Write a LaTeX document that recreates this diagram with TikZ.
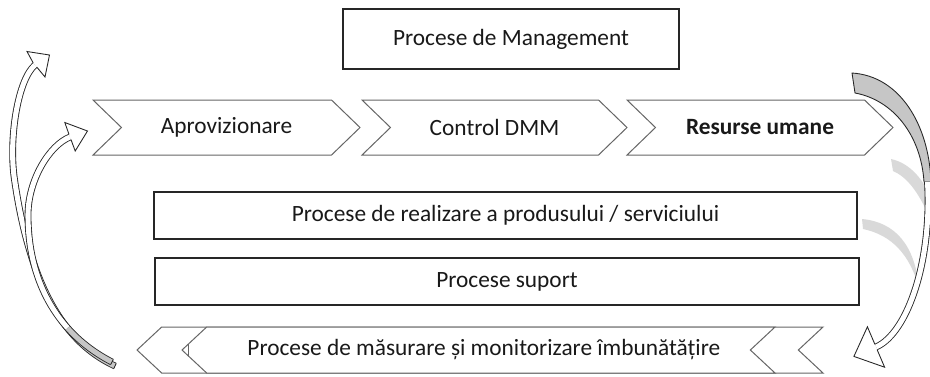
\documentclass[tikz,border=0pt]{standalone}
\usepackage{fontspec}
\setmainfont{Carlito}
\usepackage{tikz}
\usetikzlibrary{shapes.symbols}

\begin{document}
\begin{tikzpicture}[x=0.75pt, y=-0.75pt, outer sep=0pt, font=\fontsize{17.5}{20}\selectfont]

\tikzstyle{proc}=[draw=black!85, line width=1.1pt, rectangle, fill=white, text=black!90, minimum height=35.25pt]
\tikzstyle{chev}=[draw=black!60, line width=0.75pt, signal, fill=white, text=black!90, inner sep=0pt]
\tikzstyle{shaft}=[draw=black!85, line width=0.65pt, double distance=3.8pt]
\tikzstyle{head}=[draw=black!85, line width=0.65pt, fill=white]

\useasboundingbox (0,0) rectangle (930,376);

\node[proc, minimum width=252pt, minimum height=45pt] (mgmt) at (511,39) {Procese de Management};

% lantul de procese
\tikzstyle{chevtop}=[chev, signal to=east, signal from=west, signal pointer angle=88, minimum height=41.25pt]
\node[chevtop, minimum width=200.25pt] (aprov) at (226.5,127.5) {Aprovizionare}; \node[chevtop, minimum width=198.75pt] (dmm) at (494.5,127.5) {Control DMM};
\node[chevtop, minimum width=199.5pt] (resurse) at (760,127.5) {\textbf{Resurse umane}};

\node[proc, minimum width=527.25pt] (realizare) at (505.5,215.5) {Procese de realizare a produsului / serviciului};
\node[proc, minimum width=528pt] (suport) at (507,281.5) {Procese suport};

\tikzstyle{chevbot}=[chev, signal to=west, signal from=east, signal pointer angle=86, minimum height=34.5pt]
\node[chevbot, minimum width=514.5pt] (masurareb) at (480,350) {};
\node[chevbot, minimum width=444.75pt] (masurare) at (478.5,350) {\hspace*{8pt}Procese de măsurare și monitorizare îmbunătățire};
\draw[draw=black!60, line width=0.75pt] (188,344) -- (188,356);

% sageti stanga
\draw[shaft, double=gray!45] (115,366) .. controls (99.3,358.7) and (84.1,347.9) .. (70.5,331.8);
\draw[shaft, double=white] (70.5,331.8) .. controls (45.1,302) and (24.8,253.4) .. (14,176) .. controls (9,135) and (18.3,79.3) .. (35,65);
\draw[draw=black!85, line width=0.65pt] (116.2,363.5) -- (113.8,368.5);
\filldraw[head] (36.8,67.1) -- (45,77) -- (49.5,55) -- (27,51.5) -- (33.2,62.9);

\draw[shaft, double=gray!45] (112,362) .. controls (95.6,353.6) and (80.3,342.3) .. (67.5,327.9);
\draw[shaft, double=white] (67.5,327.9) .. controls (43.7,301.1) and (28,263.8) .. (28,215) .. controls (28,180) and (49.5,145.1) .. (70,137);
\draw[draw=black!85, line width=0.65pt] (113.3,359.5) -- (110.7,364.5);
\filldraw[head] (71,139.6) -- (75.2,151) -- (87.5,131) -- (64.8,122.5) -- (69,134.4);

% sageata dreapta
\fill[gray!30] (891,159) .. controls (910,163) and (924,180) .. (932,200) -- (928,214) .. controls (918,192) and (907,177) .. (893,171) -- cycle;
\fill[gray!30] (862,219) .. controls (895,222) and (915,245) .. (919,288) .. controls (910,255) and (892,235) .. (863,229) -- cycle;
\filldraw[head, fill=gray!45] (852,73) .. controls (900,76) and (929,125) .. (931,182) -- (924,182) .. controls (921,135) and (893,100) .. (855,93) -- cycle;
\draw[shaft, double=white] (927.5,182) .. controls (932,260) and (908,333) .. (876,347);
\filldraw[head] (877.1,349.6) -- (884.6,367.2) -- (853.9,356.4) -- (867.4,326.8) -- (874.9,344.4);

\end{tikzpicture}
\end{document}
